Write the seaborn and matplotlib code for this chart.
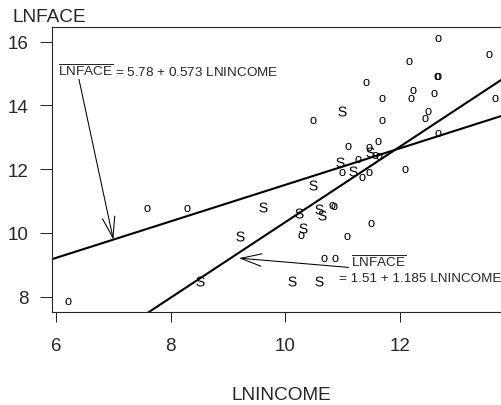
import numpy as np
import pandas as pd
import matplotlib
matplotlib.use("Agg")
import matplotlib.pyplot as plt
import seaborn as sns

# Observations: married ("o") and single ("S") respondents
o_lnincome = [6.21, 7.59, 8.29, 10.49, 11.40, 11.69, 11.69, 12.15, 12.23, 12.19,
              12.60, 12.67, 12.64, 12.67, 12.49, 12.43, 12.66, 13.55, 13.65, 12.09,
              11.61, 11.10, 11.26, 11.45, 11.57, 11.64, 10.99, 11.33, 11.46, 10.82,
              10.85, 11.50, 11.07, 10.27, 10.68, 10.86]
o_lnface = [7.86, 10.79, 10.79, 13.53, 14.72, 14.22, 13.53, 15.40, 14.49, 14.22,
            14.38, 16.13, 14.91, 14.91, 13.81, 13.60, 13.13, 15.61, 14.22, 11.99,
            12.89, 12.74, 12.31, 12.68, 12.44, 12.41, 11.90, 11.74, 11.90, 10.87,
            10.84, 10.30, 9.89, 9.92, 9.21, 9.21]

s_lnincome = [10.99, 10.96, 11.18, 11.47, 10.49, 9.61, 10.23, 10.58, 10.64, 10.30,
              9.21, 8.51, 10.11, 10.59]
s_lnface = [13.81, 12.21, 11.95, 12.53, 11.50, 10.80, 10.62, 10.75, 10.56, 10.14,
            9.89, 8.50, 8.50, 8.50]

# Fitted lines (intercept, slope)
fit_married = (5.78, 0.573)
fit_single = (-1.51, 1.185)

x_ticks = [6, 8, 10, 12]
y_ticks = [8, 10, 12, 14, 16]

sns.set_style("ticks")
plt.rcParams["font.family"] = ["Liberation Sans", "DejaVu Sans"]
plt.rcParams["mathtext.fontset"] = "custom"
plt.rcParams["mathtext.rm"] = "Liberation Sans"

fig = plt.figure(figsize=(5.02, 4.06), dpi=100)
ax = fig.add_axes([0.103, 0.2298, 0.897, 0.7005])

df_o = pd.DataFrame({"LNINCOME": o_lnincome, "LNFACE": o_lnface})
df_s = pd.DataFrame({"LNINCOME": s_lnincome, "LNFACE": s_lnface})

sns.scatterplot(data=df_o, x="LNINCOME", y="LNFACE", ax=ax,
                marker=r"$\mathregular{o}$", s=26, color="black", linewidth=0)
sns.scatterplot(data=df_s, x="LNINCOME", y="LNFACE", ax=ax,
                marker=r"$\mathregular{S}$", s=52, color="black", linewidth=0)

xs = np.array([5.0, 15.0])
for b0, b1 in (fit_married, fit_single):
    sns.lineplot(x=xs, y=b0 + b1 * xs, ax=ax, color="black", linewidth=1.5)

ax.set_xlim(5.925, 13.778)
ax.set_ylim(7.53, 16.45)
ax.set_xticks(x_ticks)
ax.set_yticks(y_ticks)
ax.set_xlabel("")
ax.set_ylabel("")
ax.tick_params(axis="x", length=7.5, width=0.75, pad=11, labelsize=13.5)
ax.tick_params(axis="y", length=9, width=0.75, pad=7.5, labelsize=13.5)
for side in ("left", "top", "bottom"):
    ax.spines[side].set_linewidth(0.8)
ax.spines["right"].set_visible(False)

hat = r"$\overline{\mathregular{LNFACE}}$"
ax.text(6.03, 14.93, hat + " = 5.78 + 0.573 LNINCOME", fontsize=9.7,
        ha="left", va="baseline")
ax.text(11.14, 8.95, hat, fontsize=9.7, ha="left", va="baseline")
ax.text(10.94, 8.50, "= 1.51 + 1.185 LNINCOME", fontsize=9.7,
        ha="left", va="baseline")

arrow = dict(arrowstyle="->,head_length=1.0,head_width=0.3", lw=0.75,
             color="black", shrinkA=0, shrinkB=0, mutation_scale=15)
tip1_x = 7.0
ax.annotate("", xy=(tip1_x, fit_married[0] + fit_married[1] * tip1_x),
            xytext=(6.40, 14.82), arrowprops=arrow)
ax.annotate("", xy=(9.19, 9.21), xytext=(11.10, 8.92), arrowprops=arrow)

fig.text(13 / 502, 1 - 17 / 406, "LNFACE", fontsize=13.7, ha="left", va="center")
fig.text(281 / 502, 1 - 396 / 406, "LNINCOME", fontsize=13.7, ha="center", va="center")

fig.savefig("out.png", dpi=100)
